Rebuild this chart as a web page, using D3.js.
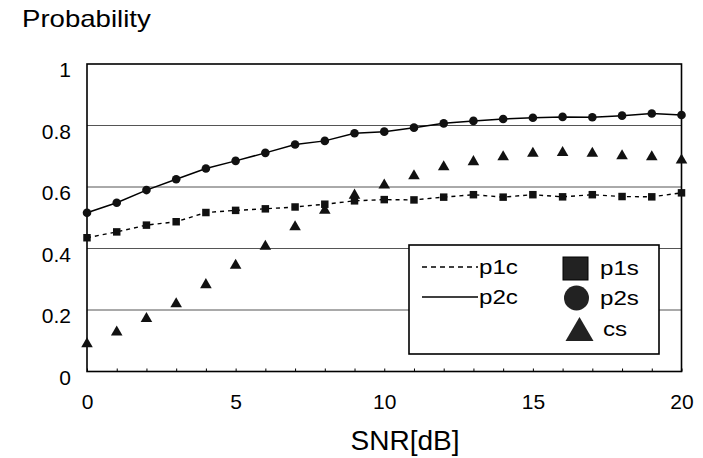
<!DOCTYPE html>
<html>
<head>
<meta charset="utf-8">
<script src="https://cdn.jsdelivr.net/npm/d3@7"></script>
<style>
  body { margin: 0; background: #fff; }
  text { font-family: "Liberation Sans", Arial, sans-serif; fill: #000; }
</style>
</head>
<body>
<div class="canva"></div>
<script>
// SNR in dB (x categories)
const snr = [0, 1, 2, 3, 4, 5, 6, 7, 8, 9, 10, 11, 12, 13, 14, 15, 16, 17, 18, 19, 20];

// p1 (p1c line / p1s squares)
const p1 = [0.435, 0.454, 0.476, 0.487, 0.517, 0.524, 0.529, 0.535, 0.544, 0.555, 0.559,
            0.558, 0.567, 0.575, 0.567, 0.575, 0.568, 0.575, 0.569, 0.568, 0.581];
// p2 (p2c line / p2s circles)
const p2 = [0.516, 0.549, 0.590, 0.625, 0.660, 0.685, 0.711, 0.738, 0.750, 0.775, 0.780,
            0.793, 0.807, 0.815, 0.821, 0.825, 0.828, 0.827, 0.832, 0.839, 0.834];
// cs (triangles)
const cs = [0.090, 0.128, 0.172, 0.220, 0.282, 0.345, 0.407, 0.470, 0.524, 0.573, 0.606,
            0.636, 0.665, 0.682, 0.698, 0.709, 0.712, 0.709, 0.701, 0.698, 0.687];

const xTicks = [0, 5, 10, 15, 20];
const yTicks = [0, 0.2, 0.4, 0.6, 0.8, 1];
const gridValues = [0.2, 0.4, 0.6, 0.8];

const width = 703, height = 458;
const plot = { left: 87, right: 681.5, top: 64, bottom: 371.5 };

const svg = d3.select(".canva").append("svg")
    .attr("width", width)
    .attr("height", height);

const x = d3.scaleLinear().domain([0, 20]).range([plot.left, plot.right]);
const y = d3.scaleLinear().domain([0, 1]).range([plot.bottom, plot.top]);

// grid lines
svg.append("g").selectAll("line")
    .data(gridValues)
    .join("line")
    .attr("x1", plot.left)
    .attr("x2", plot.right)
    .attr("y1", d => y(d))
    .attr("y2", d => y(d))
    .attr("stroke", "#555")
    .attr("stroke-width", 1);

// x axis: small inner ticks at every dB, labels every 5
const xAxis = svg.append("g")
    .attr("transform", `translate(0,${plot.bottom})`)
    .call(d3.axisBottom(x)
        .tickValues(snr)
        .tickSize(-3)
        .tickPadding(23)
        .tickFormat(d => xTicks.includes(d) ? d : ""));
xAxis.select(".domain").remove();
xAxis.selectAll("line").attr("stroke", "#000");
xAxis.selectAll("text").style("font-size", "21px").style("font-family", "Liberation Sans, Arial, sans-serif");

// y axis labels
const yAxis = svg.append("g")
    .attr("transform", `translate(${plot.left},0)`)
    .call(d3.axisLeft(y)
        .tickValues(yTicks)
        .tickSize(0)
        .tickPadding(16)
        .tickFormat(d => d));
yAxis.select(".domain").remove();
yAxis.selectAll("text")
    .attr("dy", "0.6em")
    .style("font-size", "21px")
    .style("font-family", "Liberation Sans, Arial, sans-serif");

// plot frame
svg.append("rect")
    .attr("x", plot.left)
    .attr("y", plot.top)
    .attr("width", plot.right - plot.left)
    .attr("height", plot.bottom - plot.top)
    .attr("fill", "none")
    .attr("stroke", "#000")
    .attr("stroke-width", 1.6);

const line = d3.line()
    .x((d, i) => x(snr[i]))
    .y(d => y(d));

// p1c dashed
svg.append("path")
    .datum(p1)
    .attr("d", line)
    .attr("fill", "none")
    .attr("stroke", "#000")
    .attr("stroke-width", 1.4)
    .attr("stroke-dasharray", "4,4");

// p2c solid
svg.append("path")
    .datum(p2)
    .attr("d", line)
    .attr("fill", "none")
    .attr("stroke", "#000")
    .attr("stroke-width", 1.5);

// p1s squares
svg.append("g").selectAll("path")
    .data(p1)
    .join("path")
    .attr("transform", (d, i) => `translate(${x(snr[i])},${y(d)})`)
    .attr("d", d3.symbol(d3.symbolSquare, 56))
    .attr("fill", "#111");

// p2s circles
svg.append("g").selectAll("circle")
    .data(p2)
    .join("circle")
    .attr("cx", (d, i) => x(snr[i]))
    .attr("cy", d => y(d))
    .attr("r", 4.3)
    .attr("fill", "#111");

// cs triangles
const tri = d3.symbol(d3.symbolTriangle, 58);
svg.append("g").selectAll("path")
    .data(cs)
    .join("path")
    .attr("transform", (d, i) => `translate(${x(snr[i])},${y(d)})`)
    .attr("d", tri)
    .attr("fill", "#111");

// legend
const legend = svg.append("g");
legend.append("rect")
    .attr("x", 409)
    .attr("y", 245)
    .attr("width", 250)
    .attr("height", 109)
    .attr("fill", "#fff")
    .attr("stroke", "#000")
    .attr("stroke-width", 1.6);

const lineItems = [
    { name: "p1c", dash: "5,4", cy: 267 },
    { name: "p2c", dash: null, cy: 297 }
];
lineItems.forEach(item => {
    legend.append("line")
        .attr("x1", 422).attr("x2", 478)
        .attr("y1", item.cy).attr("y2", item.cy)
        .attr("stroke", "#000")
        .attr("stroke-width", 1.6)
        .attr("stroke-dasharray", item.dash);
    legend.append("text")
        .attr("transform", `translate(479,${item.cy + 7}) scale(1.15,1)`)
        .style("font-size", "21px")
        .text(item.name);
});

legend.append("rect")
    .attr("x", 563).attr("y", 257)
    .attr("width", 25).attr("height", 23)
    .attr("fill", "#222")
    .attr("stroke", "#000");
legend.append("circle")
    .attr("cx", 576.5).attr("cy", 298)
    .attr("r", 12.5)
    .attr("fill", "#222");
legend.append("path")
    .attr("d", "M579.5,317 L593.5,341 L565.5,341 Z")
    .attr("fill", "#222");

const markerItems = [
    { name: "p1s", x: 600, cy: 268 },
    { name: "p2s", x: 600, cy: 298 },
    { name: "cs", x: 603, cy: 329 }
];
markerItems.forEach(item => {
    legend.append("text")
        .attr("transform", `translate(${item.x},${item.cy + 7}) scale(1.15,1)`)
        .style("font-size", "21px")
        .text(item.name);
});

// titles
svg.append("text")
    .attr("transform", "translate(22,27) scale(1.2,1)")
    .style("font-size", "23px")
    .text("Probability");

svg.append("text")
    .attr("x", 405)
    .attr("y", 450)
    .attr("text-anchor", "middle")
    .style("font-size", "28px")
    .text("SNR[dB]");
</script>
</body>
</html>
